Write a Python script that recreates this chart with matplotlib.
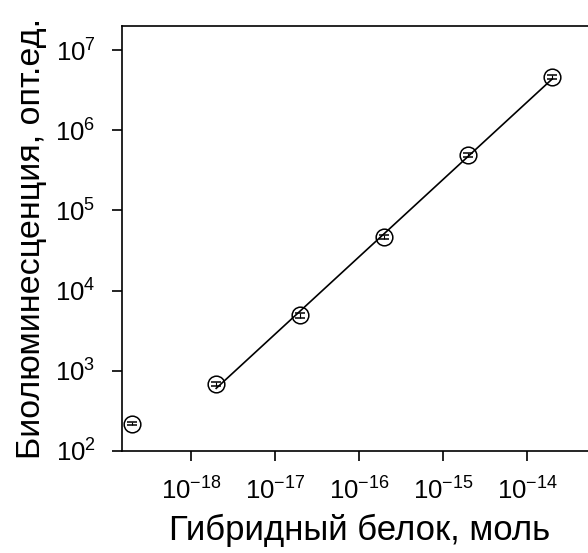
import numpy as np
import matplotlib
matplotlib.use("Agg")
import matplotlib.pyplot as plt
from matplotlib.ticker import LogLocator, NullLocator

plt.rcParams['font.family'] = ['Liberation Sans', 'DejaVu Sans']
plt.rcParams['mathtext.fontset'] = 'custom'
plt.rcParams['mathtext.rm'] = 'Liberation Sans'
plt.rcParams['mathtext.it'] = 'Liberation Sans:italic'
plt.rcParams['mathtext.bf'] = 'Liberation Sans:bold'

# data
protein_mol = [2e-19, 2e-18, 2e-17, 2e-16, 2e-15, 2e-14]
signal = [220, 690, 4900, 47000, 490000, 4.6e6]
signal_err = [12, 40, 300, 2500, 25000, 280000]

xlabel = "Гибридный белок, моль"
ylabel = "Биолюминесценция, опт.ед."

fig = plt.figure(figsize=(5.88, 5.53), dpi=100)
# axes run past the right edge, as in the original
ax = fig.add_axes([122 / 588, 1 - 451 / 553, (610 - 122) / 588, (451 - 26) / 553])

# linear fit in log-log space over the linear range (points 2..6)
lx = np.log10(protein_mol[1:])
ly = np.log10(signal[1:])
k, b = np.polyfit(lx, ly, 1)
fx = np.array([lx[0], lx[-1]])
ax.plot(10 ** fx, 10 ** (k * fx + b), color='black', lw=1.2, zorder=2)

ax.errorbar(protein_mol, signal, yerr=signal_err, fmt='o', ms=12,
            mfc='none', mec='black', mew=1.1, ecolor='black',
            elinewidth=0.8, capsize=3.5, capthick=0.8, zorder=3)

ax.set_xscale('log')
ax.set_yscale('log')
ax.set_xlim(10 ** -18.82, 10 ** (-14 + (610 - 527) / 84))
ax.set_ylim(1e2, 10 ** (7 + 24 / 80))
ax.xaxis.set_major_locator(LogLocator(base=10, numticks=20))
ax.yaxis.set_major_locator(LogLocator(base=10, numticks=20))
ax.xaxis.set_minor_locator(NullLocator())
ax.yaxis.set_minor_locator(NullLocator())
ax.set_xticks([1e-18, 1e-17, 1e-16, 1e-15, 1e-14])

for s in ax.spines.values():
    s.set_linewidth(1.2)
ax.tick_params(direction='out', length=7, width=1.2, labelsize=18.5, pad=12)

ax.set_xlabel(xlabel, fontsize=25)
ax.set_ylabel(ylabel, fontsize=24.5)
ax.xaxis.set_label_coords((360 - 122) / 488, -(514 - 451) / 425)
ax.yaxis.set_label_coords((47 - 122) / 488, 0.5)

fig.savefig("out.png", dpi=100)
